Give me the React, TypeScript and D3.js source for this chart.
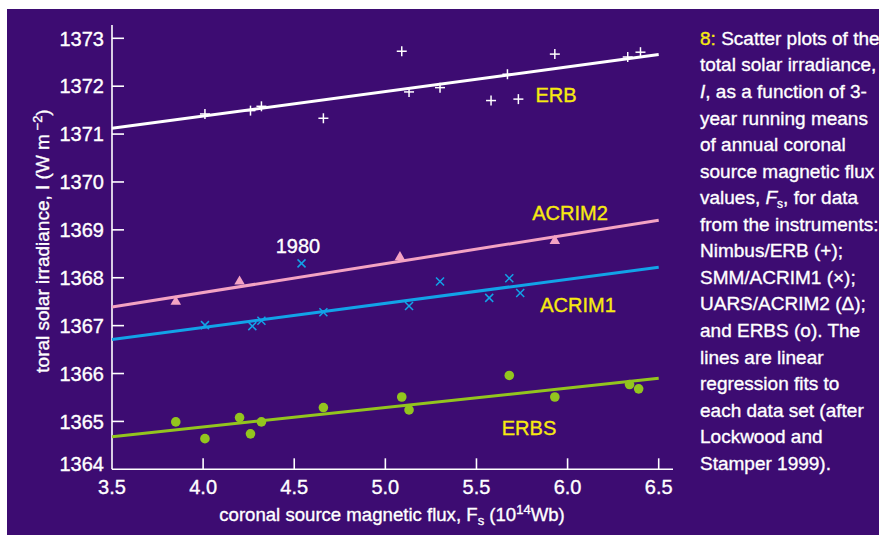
import React from "react";
import * as d3 from "d3";

const W = 879;
const H = 535;

// x = coronal source magnetic flux (10^14 Wb), y = irradiance (W m^-2)
const erbX = [4.01, 4.26, 4.32, 4.66, 5.09, 5.13, 5.30, 5.58, 5.67, 5.73, 5.93, 6.33, 6.40];
const erbY = [1371.42, 1371.49, 1371.58, 1371.33, 1372.73, 1371.88, 1371.97, 1371.70, 1372.25, 1371.73, 1372.67, 1372.61, 1372.71];

const acrim1X = [4.01, 4.27, 4.32, 4.54, 4.66, 5.13, 5.30, 5.57, 5.68, 5.74];
const acrim1Y = [1367.01, 1366.99, 1367.10, 1368.30, 1367.28, 1367.41, 1367.92, 1367.58, 1367.99, 1367.68];

const acrim2X = [3.85, 4.20, 5.08, 5.93];
const acrim2Y = [1367.50, 1367.92, 1368.43, 1368.77];

const erbsX = [3.85, 4.01, 4.20, 4.26, 4.32, 4.66, 5.09, 5.13, 5.68, 5.93, 6.34, 6.39];
const erbsY = [1364.99, 1364.64, 1365.08, 1364.74, 1364.99, 1365.29, 1365.51, 1365.24, 1365.96, 1365.51, 1365.77, 1365.68];

// regression fit lines evaluated at fit range ends
const fitX = [3.5, 6.5];
const erbFit = [1371.12, 1372.66];
const acrim2Fit = [1367.39, 1369.2];
const acrim1Fit = [1366.71, 1368.22];
const erbsFit = [1364.68, 1365.9];

const xTicks = [3.5, 4.0, 4.5, 5.0, 5.5, 6.0, 6.5];
const yTicks = [1364, 1365, 1366, 1367, 1368, 1369, 1370, 1371, 1372, 1373];

const BG = "#3d0c72";
const WHITE = "#ffffff";
const PINK = "#f4a3c3";
const BLUE = "#12a3e8";
const GREEN = "#93c51e";
const YELLOW = "#f7ea10";
const FONT = "'Liberation Sans Narrow', 'Arial Narrow', 'Liberation Sans', sans-serif";

const captionLines: React.ReactNode[] = [
  <>
    <tspan fill={YELLOW} stroke={YELLOW}>8:</tspan> Scatter plots of the
  </>,
  <>total solar irradiance,</>,
  <>
    <tspan fontStyle="italic">I</tspan>, as a function of 3-
  </>,
  <>year running means</>,
  <>of annual coronal</>,
  <>source magnetic flux</>,
  <>
    values, <tspan fontStyle="italic">F</tspan>
    <tspan fontSize="12" dy="4">s</tspan>
    <tspan dy="-4">, for data</tspan>
  </>,
  <>from the instruments:</>,
  <>Nimbus/ERB (+);</>,
  <>SMM/ACRIM1 (×);</>,
  <>UARS/ACRIM2 (Δ);</>,
  <>and ERBS (o). The</>,
  <>lines are linear</>,
  <>regression fits to</>,
  <>each data set (after</>,
  <>Lockwood and</>,
  <>Stamper 1999).</>,
];

export default function App() {
  const x = d3.scaleLinear().domain([3.5, 6.5]).range([112, 658.7]);
  const y = d3.scaleLinear().domain([1364, 1373]).range([469.3, 38.3]);

  const line = d3
    .line<[number, number]>()
    .x((d) => x(d[0]))
    .y((d) => y(d[1]));

  const fits = [
    { v: erbFit, c: WHITE },
    { v: acrim2Fit, c: PINK },
    { v: acrim1Fit, c: BLUE },
    { v: erbsFit, c: GREEN },
  ];

  const tri = d3.symbol().type(d3.symbolTriangle).size(48)() as string;
  const tw = 0.35;

  return (
    <svg
      width={W}
      height={H}
      style={{ position: "absolute", left: 0, top: 0, display: "block" }}
      fontFamily={FONT}
    >
      <rect x={0} y={0} width={W} height={H} fill="#ffffff" />
      <rect x={7} y={9} width={W - 7} height={H - 9} fill={BG} />

      {/* axes */}
      <line x1={x(3.5)} x2={x(3.5)} y1={25} y2={y(1364)} stroke={WHITE} strokeWidth={1.6} />
      <line x1={x(3.5)} x2={673} y1={y(1364)} y2={y(1364)} stroke={WHITE} strokeWidth={1.6} />

      {yTicks.map((t) => (
        <g key={"y" + t}>
          {t !== 1364 && (
            <line x1={x(3.5)} x2={x(3.5) + 12} y1={y(t)} y2={y(t)} stroke={WHITE} strokeWidth={1.6} />
          )}
          <text
            x={104}
            y={y(t) + (t === 1364 ? -6 : 0)}
            dy="0.36em"
            textAnchor="end"
            fill={WHITE}
            stroke={WHITE}
            strokeWidth={tw}
            fontSize={20}
          >
            {t}
          </text>
        </g>
      ))}

      {xTicks.map((t) => (
        <g key={"x" + t}>
          {t !== 3.5 && (
            <line x1={x(t)} x2={x(t)} y1={y(1364)} y2={y(1364) - 11} stroke={WHITE} strokeWidth={1.6} />
          )}
          <text x={x(t)} y={494} textAnchor="middle" fill={WHITE} stroke={WHITE} strokeWidth={tw} fontSize={20}>
            {t.toFixed(1)}
          </text>
        </g>
      ))}

      {/* axis titles */}
      <text x={392} y={521} textAnchor="middle" fill={WHITE} stroke={WHITE} strokeWidth={tw} fontSize={18.6}>
        coronal source magnetic flux, F
        <tspan fontSize={13} dy={4}>s</tspan>
        <tspan dy={-4}> (10</tspan>
        <tspan fontSize={13} dy={-7}>14</tspan>
        <tspan dy={7}>Wb)</tspan>
      </text>
      <text
        transform="translate(49,241) rotate(-90)"
        textAnchor="middle"
        fill={WHITE}
        stroke={WHITE}
        strokeWidth={tw}
        fontSize={19}
      >
        toral solar irradiance, I (W m
        <tspan fontSize={13} dy={-7}> −2</tspan>
        <tspan dy={7}>)</tspan>
      </text>

      {/* fit lines */}
      {fits.map((f, i) => (
        <path
          key={"fit" + i}
          d={line(fitX.map((xx, j) => [xx, f.v[j]] as [number, number])) as string}
          stroke={f.c}
          strokeWidth={3}
          fill="none"
        />
      ))}

      {/* ERB + */}
      {erbX.map((v, i) => (
        <g key={"erb" + i} transform={`translate(${x(v)},${y(erbY[i])})`} stroke={WHITE} strokeWidth={1.5}>
          <line x1={-5} x2={5} y1={0} y2={0} />
          <line x1={0} x2={0} y1={-5} y2={5} />
        </g>
      ))}

      {/* ACRIM1 x */}
      {acrim1X.map((v, i) => (
        <g key={"a1" + i} transform={`translate(${x(v)},${y(acrim1Y[i])})`} stroke={BLUE} strokeWidth={1.5}>
          <line x1={-4} x2={4} y1={-4} y2={4} />
          <line x1={-4} x2={4} y1={4} y2={-4} />
        </g>
      ))}

      {/* ACRIM2 triangles */}
      {acrim2X.map((v, i) => (
        <path key={"a2" + i} d={tri} transform={`translate(${x(v)},${y(acrim2Y[i])})`} fill={PINK} />
      ))}

      {/* ERBS circles */}
      {erbsX.map((v, i) => (
        <circle key={"erbs" + i} cx={x(v)} cy={y(erbsY[i])} r={4.8} fill={GREEN} />
      ))}

      {/* series labels */}
      <g fontSize={20} textAnchor="middle" strokeWidth={tw}>
        <text x={556} y={95} dy="0.36em" fill={YELLOW} stroke={YELLOW}>ERB</text>
        <text x={570} y={213} dy="0.36em" fill={YELLOW} stroke={YELLOW}>ACRIM2</text>
        <text x={578} y={305} dy="0.36em" fill={YELLOW} stroke={YELLOW}>ACRIM1</text>
        <text x={529} y={428} dy="0.36em" fill={YELLOW} stroke={YELLOW}>ERBS</text>
        <text x={298} y={246} dy="0.36em" fill={WHITE} stroke={WHITE}>1980</text>
      </g>

      {/* caption */}
      <text x={700} fill={WHITE} stroke={WHITE} strokeWidth={tw} fontSize={19}>
        {captionLines.map((l, i) => (
          <tspan key={"c" + i} x={700} y={38 + i * 26.56} dy="0.36em">
            {l}
          </tspan>
        ))}
      </text>
    </svg>
  );
}
